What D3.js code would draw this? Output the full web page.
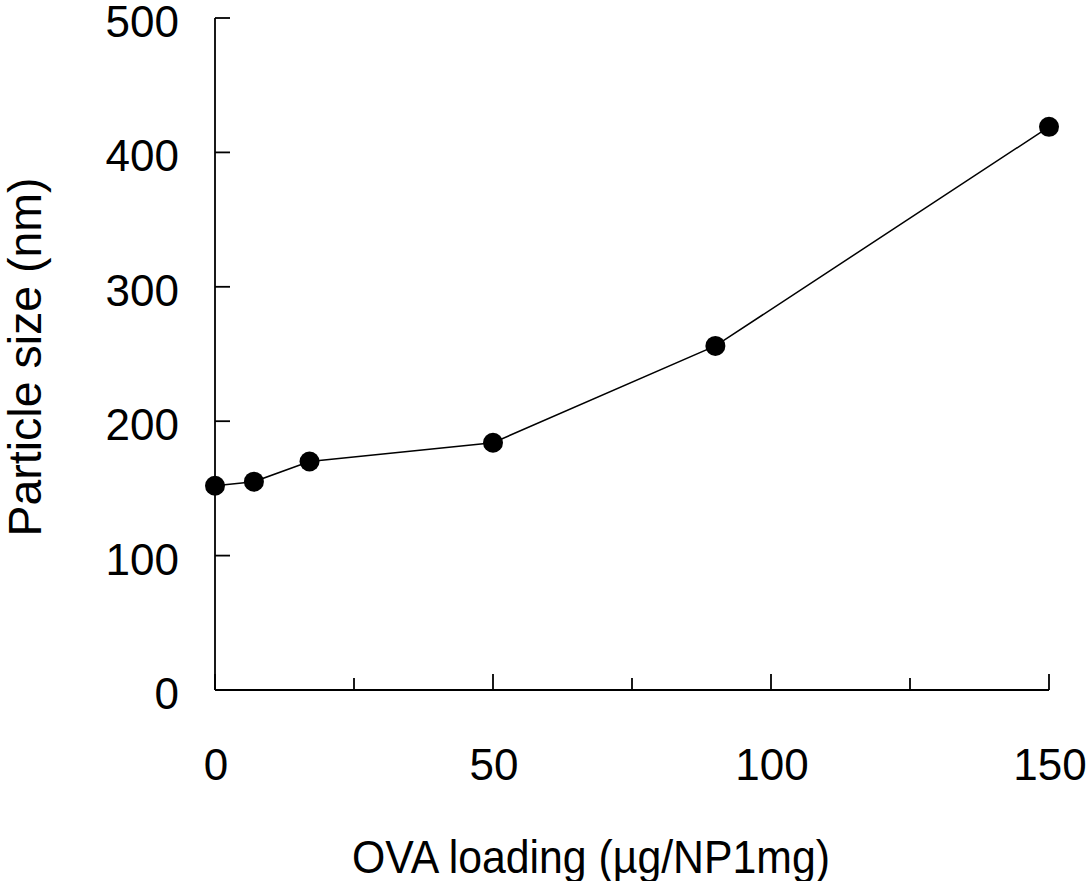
<!DOCTYPE html>
<html><head><meta charset="utf-8">
<script src="https://cdn.jsdelivr.net/npm/d3@7"></script>
<style>body{margin:0;background:#fff}svg{display:block}text{font-family:"Liberation Sans",Arial,sans-serif;fill:#000}</style>
</head><body>
<script>
const loading = [0, 7, 17, 50, 90, 150];
const sizes = [152, 155, 170, 184, 256, 419];
const xTicks = [0, 50, 100, 150];
const xMinorTicks = [25, 75, 125];
const yTicks = [0, 100, 200, 300, 400, 500];

const W = 1089, H = 881;
const svg = d3.select("body").append("svg").attr("width", W).attr("height", H);
const x = d3.scaleLinear().domain([0, 150]).range([215, 1049]);
const y = d3.scaleLinear().domain([0, 500]).range([690, 18]);

// y axis
svg.append("line").attr("x1", x(0)).attr("x2", x(0)).attr("y1", y(500)).attr("y2", y(0))
  .attr("stroke", "#000").attr("stroke-width", 1.8);
svg.selectAll(".yt").data(yTicks).enter().append("line")
  .attr("x1", x(0)).attr("x2", x(0) + 15).attr("y1", d => y(d)).attr("y2", d => y(d))
  .attr("stroke", "#000").attr("stroke-width", 1.8);
svg.selectAll(".yl").data(yTicks).enter().append("text")
  .attr("x", 179).attr("y", d => y(d) + 19).attr("text-anchor", "end")
  .attr("font-size", 44).text(d => d);

// x axis
svg.append("line").attr("x1", x(0)).attr("x2", x(150)).attr("y1", y(0)).attr("y2", y(0))
  .attr("stroke", "#000").attr("stroke-width", 1.8);
svg.selectAll(".xt").data(xTicks).enter().append("line")
  .attr("x1", d => x(d)).attr("x2", d => x(d)).attr("y1", y(0)).attr("y2", y(0) - 16)
  .attr("stroke", "#000").attr("stroke-width", 1.8);
svg.selectAll(".xm").data(xMinorTicks).enter().append("line")
  .attr("x1", d => x(d)).attr("x2", d => x(d)).attr("y1", y(0)).attr("y2", y(0) - 12)
  .attr("stroke", "#000").attr("stroke-width", 1.8);
svg.selectAll(".xl").data(xTicks).enter().append("text")
  .attr("x", d => x(d) + 1).attr("y", 780).attr("text-anchor", "middle")
  .attr("font-size", 44).text(d => d);

// line + points
const line = d3.line().x((d, i) => x(loading[i])).y(d => y(d));
svg.append("path").datum(sizes).attr("d", line).attr("fill", "none")
  .attr("stroke", "#000").attr("stroke-width", 1.5);
svg.selectAll(".pt").data(sizes).enter().append("circle")
  .attr("cx", (d, i) => x(loading[i])).attr("cy", d => y(d)).attr("r", 10).attr("fill", "#000");

// titles
svg.append("text").attr("x", 591).attr("y", 873).attr("text-anchor", "middle")
  .attr("font-size", 46).attr("textLength", 478).attr("lengthAdjust", "spacingAndGlyphs")
  .text("OVA loading (µg/NP1mg)");
svg.append("text").attr("transform", "translate(41,357) rotate(-90)").attr("text-anchor", "middle")
  .attr("font-size", 46).attr("textLength", 359).attr("lengthAdjust", "spacingAndGlyphs")
  .text("Particle size (nm)");
</script>
</body></html>
